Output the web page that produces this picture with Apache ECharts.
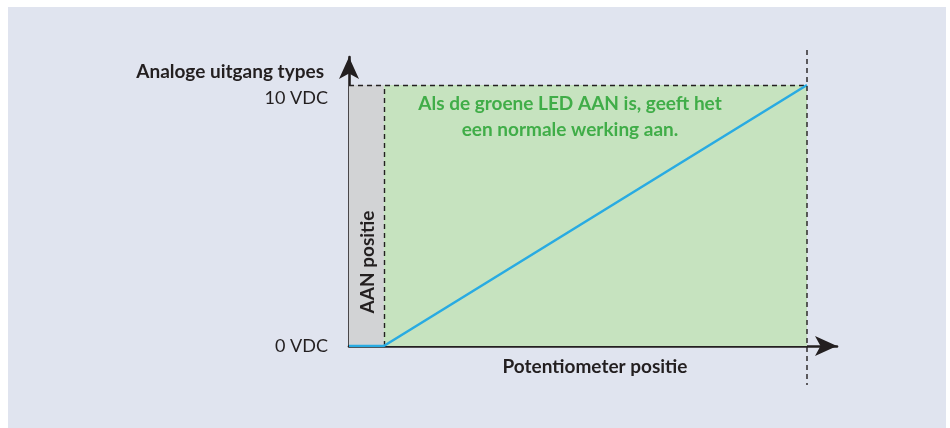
<!DOCTYPE html>
<html><head><meta charset="utf-8">
<script src="https://cdn.jsdelivr.net/npm/echarts@6/dist/echarts.min.js"></script>
<style>html,body{margin:0;padding:0;background:#fff}#c{width:950px;height:428px}</style>
</head><body><div id="c"></div>
<script>
// Data
const potPositions = [0, 7.6, 100];          // potentiometer position (%)
const outputVolts = [0, 0, 10];              // analog output (V)
const aanEnd = 7.6;                           // end of "AAN positie" zone
const fullScale = 100;
const vMax = 10;
const yTicks = [0, 10];
const yTickLabels = ['0 VDC', '10 VDC'];
const yAxisTitle = 'Analoge uitgang types';
const xAxisTitle = 'Potentiometer positie';
const zoneLabel = 'AAN positie';
const noteLines = ['Als de groene LED AAN is, geeft het', 'een normale werking aan.'];

const FONT = 'Lato';
const BOLD = 19;
const REG = 18;
const dark = '#231f20';
const chart = echarts.init(document.getElementById('c'), null, {renderer: 'canvas'});
const xMax = fullScale * (837 - 349) / (807 - 349);
const yMax = vMax * (346 - 57) / (346 - 85);

chart.setOption({
  animation: false,
  backgroundColor: '#ffffff',
  grid: {left: 349, right: 113, top: 57, bottom: 82},
  xAxis: {
    type: 'value', min: 0, max: xMax,
    axisLine: {show: true, lineStyle: {color: dark, width: 2.6}, symbol: ['none', 'arrow'], symbolSize: [15, 22]},
    axisTick: {show: false}, axisLabel: {show: false}, splitLine: {show: false}
  },
  yAxis: {
    type: 'value', min: 0, max: yMax, interval: 10,
    axisLine: {show: true, lineStyle: {color: dark, width: 2.6}, symbol: ['none', 'arrow'], symbolSize: [15, 22]},
    axisTick: {show: false}, splitLine: {show: false},
    axisLabel: {
      margin: 21, fontFamily: FONT, fontSize: REG, color: dark,
      formatter: v => {
        const i = yTicks.indexOf(v);
        if (i < 0) return '';
        return v === vMax ? '{hi|' + yTickLabels[i] + '}' : yTickLabels[i];
      },
      rich: {hi: {fontFamily: FONT, fontSize: REG, color: dark, padding: [26, 0, 0, 0]}}
    }
  },
  series: [{
    type: 'line',
    data: potPositions.map((p, i) => [p, outputVolts[i]]),
    showSymbol: false,
    lineStyle: {color: '#29abe2', width: 2.6},
    z: 5,
    markArea: {
      silent: true,
      data: [
        [{coord: [0, 0], itemStyle: {color: '#d2d3d5'}}, {coord: [aanEnd, vMax]}],
        [{coord: [aanEnd, 0], itemStyle: {color: '#c6e3bf'}}, {coord: [fullScale, vMax]}]
      ]
    },
    markLine: {
      silent: true, symbol: 'none', label: {show: false},
      lineStyle: {color: dark, width: 1.4, type: [5, 4]},
      data: [
        [{coord: [0, vMax]}, {coord: [fullScale, vMax]}],
        [{coord: [aanEnd, 0]}, {coord: [aanEnd, vMax]}]
      ]
    }
  }]
});

const pFull = chart.convertToPixel({gridIndex: 0}, [fullScale, 0]);
const pAan = chart.convertToPixel({gridIndex: 0}, [aanEnd, 0]);
const pTop = chart.convertToPixel({gridIndex: 0}, [0, vMax]);

chart.setOption({
  graphic: [
    {type: 'rect', z: -10, silent: true, shape: {x: 8, y: 7, width: 938, height: 421}, style: {fill: '#e0e4ef'}},
    {type: 'line', z: 10, silent: true, shape: {x1: pFull[0], y1: 50, x2: pFull[0], y2: 385},
     style: {stroke: dark, lineWidth: 1.4, lineDash: [5, 4]}},
    {type: 'text', z: 10, x: 324, y: 72, style: {text: yAxisTitle, fontFamily: FONT, fontWeight: 'bold', fontSize: BOLD, fill: dark, align: 'right', verticalAlign: 'middle'}},
    {type: 'text', z: 10, x: (349 + pFull[0]) / 2 + 17, y: 367, style: {text: xAxisTitle, fontFamily: FONT, fontWeight: 'bold', fontSize: BOLD, fill: dark, align: 'center', verticalAlign: 'middle'}},
    {type: 'text', z: 10, x: (349 + pAan[0]) / 2 + 1, y: 262, rotation: Math.PI / 2,
     style: {text: zoneLabel, fontFamily: FONT, fontWeight: 'bold', fontSize: BOLD, fill: dark, align: 'center', verticalAlign: 'middle'}},
    {type: 'text', z: 10, x: 570, y: pTop[1] + 19, style: {text: noteLines[0], fontFamily: FONT, fontWeight: 'bold', fontSize: BOLD, fill: '#40ad48', align: 'center', verticalAlign: 'middle'}},
    {type: 'text', z: 10, x: 570, y: pTop[1] + 45, style: {text: noteLines[1], fontFamily: FONT, fontWeight: 'bold', fontSize: BOLD, fill: '#40ad48', align: 'center', verticalAlign: 'middle'}}
  ]
});
</script></body></html>
